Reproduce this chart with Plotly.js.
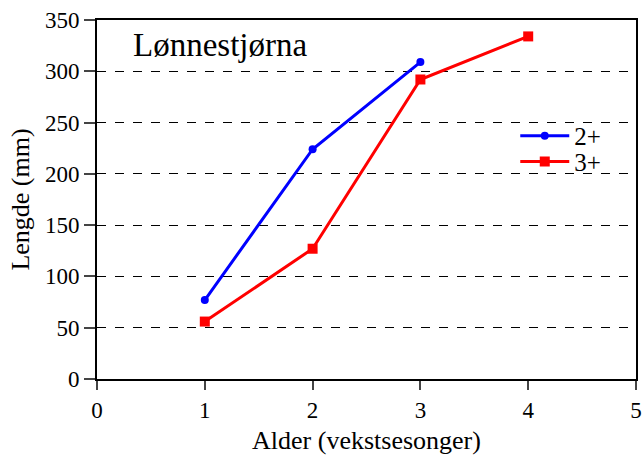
<!DOCTYPE html>
<html><head><meta charset="utf-8">
<script src="https://cdn.plot.ly/plotly-3.0.1.min.js"></script>
<style>body{margin:0;padding:0;background:#fff}</style>
</head><body>
<div id="chart" style="width:642px;height:455px"></div>
<script>
const ages2 = [1, 2, 3];
const length2 = [77, 224, 309];
const ages3 = [1, 2, 3, 4];
const length3 = [56, 127, 292, 334];
const seriesNames = ['2+', '3+'];
const xTicks = [0, 1, 2, 3, 4, 5];
const yTicks = [0, 50, 100, 150, 200, 250, 300, 350];

const font = '"Liberation Serif", "Times New Roman", Times, serif';
const traces = [
  {x: ages2, y: length2, name: seriesNames[0], mode: 'lines+markers', type: 'scatter', legend: 'legend',
   line: {color: '#0000ff', width: 3}, marker: {color: '#0000ff', size: 8, symbol: 'circle'}},
  {x: ages3, y: length3, name: seriesNames[1], mode: 'lines+markers', type: 'scatter', legend: 'legend2',
   line: {color: '#ff0000', width: 3}, marker: {color: '#ff0000', size: 10, symbol: 'square'}}
];
const legendBase = {xanchor: 'left', yanchor: 'middle', bgcolor: 'rgba(0,0,0,0)',
  font: {size: 25, family: font}, itemwidth: 49, borderwidth: 0};
const layout = {
  width: 642, height: 455,
  margin: {l: 97, r: 6, t: 20, b: 76},
  paper_bgcolor: '#fff', plot_bgcolor: '#fff',
  font: {family: font, size: 23, color: '#000'},
  showlegend: true,
  legend: Object.assign({}, legendBase, {x: 0.776, y: 0.677}),
  legend2: Object.assign({}, legendBase, {x: 0.776, y: 0.605}),
  xaxis: {range: [0, 5], tickvals: xTicks, ticks: 'outside', ticklen: 9, tickwidth: 2,
          showline: true, linewidth: 2, linecolor: '#000', mirror: true, showgrid: false, zeroline: false,
          tickfont: {size: 23},
          title: {text: 'Alder (vekstsesonger)', standoff: 16, font: {size: 26}}},
  yaxis: {range: [0, 350], tickvals: yTicks, ticks: 'outside', ticklen: 11, tickwidth: 2,
          showline: true, linewidth: 2, linecolor: '#000', mirror: true, showgrid: true,
          gridcolor: '#000', gridwidth: 1, griddash: 'dash', zeroline: false,
          tickfont: {size: 23},
          title: {text: 'Lengde (mm)', standoff: 8, font: {size: 26}}},
  annotations: [{text: 'Lønnestjørna', xref: 'paper', yref: 'paper', x: 0.063, y: 0.93,
                 xanchor: 'left', yanchor: 'middle', showarrow: false, font: {size: 33, family: font}}]
};
Plotly.newPlot('chart', traces, layout, {displayModeBar: false, staticPlot: true});
</script>
</body></html>
